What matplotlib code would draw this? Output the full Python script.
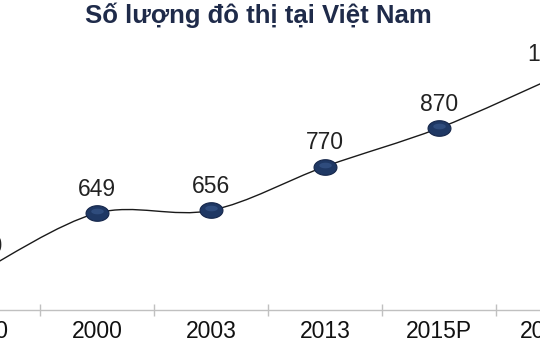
import numpy as np
import matplotlib
matplotlib.use("Agg")
import matplotlib.pyplot as plt
from matplotlib.path import Path
from matplotlib.patches import PathPatch

plt.rcParams["font.family"] = ["Liberation Sans", "DejaVu Sans"]

years = ["1990", "2000", "2003", "2013", "2015P", "2025P"]
counts = [500, 649, 656, 770, 870, 1000]
title = "Số lượng đô thị tại Việt Nam"

NAVY = "#1f3864"
AXIS_GREY = "#c0c0c0"

x = np.arange(len(years), dtype=float)
y = np.array(counts, dtype=float)


def smooth_path(xs, ys):
    # Excel-style smoothed line: cubic Bezier segments (Catmull-Rom tangents)
    pts = np.column_stack([xs, ys])
    ext = np.vstack([pts[0], pts, pts[-1]])
    verts = [pts[0]]
    codes = [Path.MOVETO]
    for i in range(len(pts) - 1):
        p0, p1, p2, p3 = ext[i], ext[i + 1], ext[i + 2], ext[i + 3]
        verts += [p1 + (p2 - p0) / 6, p2 - (p3 - p1) / 6, p2]
        codes += [Path.CURVE4] * 3
    return Path(verts, codes)


# slightly flattened ellipse used as the point marker
t = np.linspace(0, 2 * np.pi, 60)
ellipse = Path(np.column_stack([np.cos(t), 0.68 * np.sin(t)]), closed=True)
highlight = Path(np.column_stack([np.cos(t), 0.45 * np.sin(t)]), closed=True)

fig = plt.figure(figsize=(5.4, 3.5), dpi=100)
ax = fig.add_axes([0, 40 / 350, 1, 310 / 350])
ax.set_xlim(0.149, 4.886)
ax.set_ylim(397, 1203)

ax.add_patch(PathPatch(smooth_path(x, y), facecolor="none",
                       edgecolor="#1a1a1a", lw=1.0, zorder=2))
ax.plot(x, y, linestyle="none", marker=ellipse, markersize=16.5,
        markerfacecolor=NAVY, markeredgecolor="#15264a", markeredgewidth=0.8,
        zorder=3)
# soft lighter sheen on the upper part of each marker
ax.plot(x, y + 5, linestyle="none", marker=highlight, markersize=9,
        markerfacecolor="#3b5a8f", markeredgewidth=0, alpha=0.6, zorder=4)

for xi, yi, v in zip(x, y, counts):
    ax.annotate(str(v), (xi, yi), xytext=(0, 17), textcoords="offset points",
                ha="center", va="center", fontsize=16.5, color="#222222",
                annotation_clip=False)

for xi, lab in zip(x, years):
    ax.text(xi, -0.068, lab, transform=ax.get_xaxis_transform(),
            ha="center", va="center", fontsize=16.5, color="#111111",
            clip_on=False)

for side in ["top", "left", "right"]:
    ax.spines[side].set_visible(False)
ax.spines["bottom"].set_color(AXIS_GREY)
ax.spines["bottom"].set_linewidth(1.0)
ax.set_yticks([])
ax.set_xticks(np.arange(0.5, len(years) - 0.5))
ax.set_xticklabels([])
ax.tick_params(axis="x", direction="inout", length=8, width=1.0,
               color=AXIS_GREY)

fig.text(258 / 540, 1 - 15 / 350, title, ha="center", va="center",
         fontsize=18.5, fontweight="bold", color="#1f2b4a")

fig.savefig("out.png", dpi=100, facecolor="white")
